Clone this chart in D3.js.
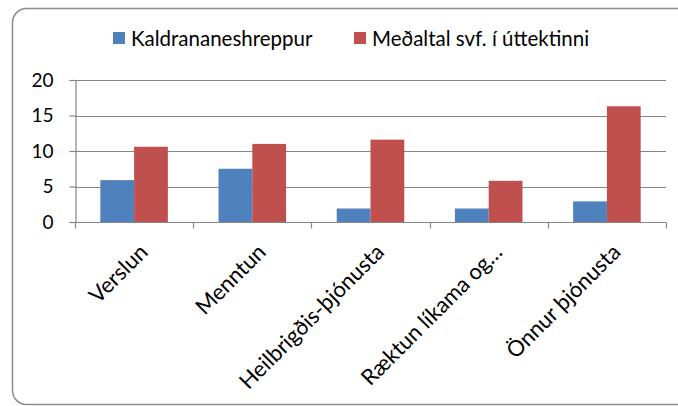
<!DOCTYPE html>
<html>
<head>
<meta charset="utf-8">
<script src="https://cdn.jsdelivr.net/npm/d3@7"></script>
<style>
  body { margin: 0; background: #fff; }
  text { font-family: Lato, "Open Sans", sans-serif; fill: #000; }
</style>
</head>
<body>
<div id="chart"></div>
<script>
let categories = ['Verslun', 'Menntun', 'Heilbrigðis-þjónusta', 'Ræktun líkama og…', 'Önnur þjónusta'];
let seriesNames = ['Kaldrananeshreppur', 'Meðaltal svf. í úttektinni'];
let kaldrananeshreppur = [5.9, 7.5, 1.9, 1.9, 2.9];
let medaltal = [10.6, 11.0, 11.6, 5.8, 16.3];
let yTicks = [0, 5, 10, 15, 20];
let colors = ['#4F81BD', '#C0504D'];

let width = 678, height = 406;
let margin = {left: 75, right: 12, top: 80, bottom: 184};

let svg = d3.select('#chart').append('svg')
  .attr('width', width)
  .attr('height', height)

// chart frame
svg.append('rect')
  .attr('x', 12.5).attr('y', 8.5)
  .attr('width', 680).attr('height', 396)
  .attr('rx', 14)
  .style('fill', 'none')
  .style('stroke', '#8c8c8c')
  .style('stroke-width', 1.5)

let xScale = d3.scaleBand()
  .domain(categories)
  .range([margin.left, width - margin.right])

let xInner = d3.scaleBand()
  .domain(seriesNames)
  .range([0, xScale.bandwidth()])
  .paddingOuter(0.75)

let yScale = d3.scaleLinear()
  .domain([0, 20])
  .range([height - margin.bottom, margin.top])

// gridlines
svg.append('g')
  .selectAll('line')
  .data(yTicks.slice(1))
  .enter().append('line')
  .attr('x1', margin.left).attr('x2', width - margin.right)
  .attr('y1', d => Math.round(yScale(d)) + 0.5)
  .attr('y2', d => Math.round(yScale(d)) + 0.5)
  .style('stroke', '#868686')
  .style('stroke-width', 1.2)

let rows = categories.map((c, i) => ({cat: c, values: [kaldrananeshreppur[i], medaltal[i]]}))

let groups = svg.append('g').selectAll('g')
  .data(rows)
  .enter().append('g')
  .attr('transform', d => `translate(${xScale(d.cat)}, 0)`)

groups.selectAll('rect')
  .data(d => d.values.map((v, j) => ({name: seriesNames[j], v: v, j: j})))
  .enter().append('rect')
  .attr('x', d => xInner(d.name))
  .attr('width', xInner.bandwidth())
  .attr('y', d => yScale(d.v))
  .attr('height', d => yScale(0) - yScale(d.v))
  .style('fill', d => colors[d.j])

// y axis
let yAxis = d3.axisLeft(yScale).tickValues(yTicks).tickSize(6).tickPadding(16)
let gy = svg.append('g')
  .attr('transform', `translate(${margin.left + 0.5}, 0)`)
  .call(yAxis)
gy.select('.domain').style('stroke', '#868686').style('stroke-width', 1.2)
gy.selectAll('.tick line').style('stroke', '#868686').style('stroke-width', 1.2)
gy.selectAll('.tick text').style('font-size', '19px')

// x axis with ticks at category boundaries
let gx = svg.append('g')
  .attr('transform', `translate(0, ${Math.round(yScale(0)) + 0.5})`)
gx.append('line')
  .attr('x1', margin.left).attr('x2', width - margin.right)
  .style('stroke', '#868686').style('stroke-width', 1.2)
gx.selectAll('.bt')
  .data(categories.concat(['end']))
  .enter().append('line')
  .attr('class', 'bt')
  .attr('x1', (d, i) => Math.round(margin.left + i * xScale.step()) + 0.5)
  .attr('x2', (d, i) => Math.round(margin.left + i * xScale.step()) + 0.5)
  .attr('y1', 0).attr('y2', 6)
  .style('stroke', '#868686').style('stroke-width', 1.2)

gx.selectAll('.lab')
  .data(categories)
  .enter().append('text')
  .attr('class', 'lab')
  .attr('text-anchor', 'end')
  .attr('transform', d => `translate(${xScale(d) + xScale.bandwidth() / 2 + 15}, ${31}) rotate(-45)`)
  .style('font-size', '22px')
  .text(d => d)

// legend
let legend = svg.append('g')
let legX = [113, 354]
seriesNames.forEach((s, i) => {
  legend.append('rect')
    .attr('x', legX[i]).attr('y', 32)
    .attr('width', 12).attr('height', 12)
    .style('fill', colors[i])
  legend.append('text')
    .attr('x', legX[i] + 18).attr('y', 45.5)
    .style('font-size', '20.5px')
    .text(s)
})
</script>
</body>
</html>
